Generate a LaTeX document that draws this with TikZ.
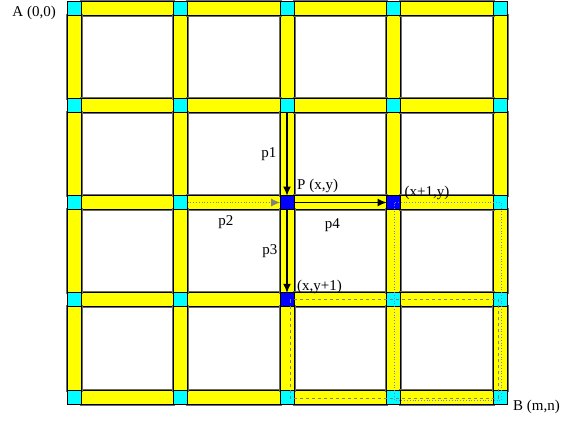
\documentclass[tikz,border=0pt]{standalone}
\usepackage{fontspec}
\setmainfont{Liberation Serif}
\usetikzlibrary{arrows.meta, positioning, backgrounds}
\definecolor{junction}{RGB}{0,255,255}
\definecolor{street}{RGB}{255,255,0}
\definecolor{visited}{RGB}{0,0,255}
\definecolor{pathblue}{RGB}{110,120,240}

\begin{document}
\begin{tikzpicture}[x=1pt, y=-1pt, >={Latex[length=9pt, width=8pt]},
    cell/.style={draw, line width=0.8pt, fill=junction, minimum size=14pt, inner sep=0pt, outer sep=0pt},
    hl22/.style={fill=visited}, hl32/.style={fill=visited}, hl23/.style={fill=visited},
    bar/.style={preaction={draw=gray!85!black, line width=3pt}, draw, line width=0.8pt, fill=street},
    lbl/.style={font=\fontsize{15}{17}\selectfont, inner sep=1pt},
    move/.style={->, line width=1.1pt}]
  \useasboundingbox (0,0) rectangle (561,421);

  % junctions of the grid
  \foreach \i in {0,...,4}
    \foreach \j in {0,...,4}
      \node[cell, hl\i\j/.try] (v\i\j) at ({74+106.5*\i}, {8+97.25*\j}) {};

  % streets between the junctions
  \begin{scope}[on background layer]
    \foreach \i [count=\k] in {0,...,3}
      \foreach \j in {0,...,4} {
        \draw[bar] (v\i\j.north east) rectangle (v\k\j.south west);
        \draw[bar] (v\j\i.south west) rectangle (v\j\k.north east);
      }
  \end{scope}

  % moves around P
  \draw[move] (v21) -- node[lbl, left=9pt] {p1} (v22);
  \draw[->, gray, dotted, line width=0.8pt] (v12) -- node[lbl, black, below=12pt, xshift=-8pt] {p2} (v22);
  \draw[move] (v22) -- node[lbl, left=8pt] {p3} (v23);
  \draw[move] (v22) -- node[lbl, below=15pt, xshift=-8pt] {p4} (v32);

  % paths on to B
  \draw[pathblue, dotted, line width=0.8pt] ([xshift=1pt]v32.center) rectangle ([shift={(1.5,3)}]v44.center);
  \draw[gray, dashed, line width=0.6pt] ([xshift=3pt]v23.center) rectangle ([shift={(-2,1)}]v44.center);

  % corner and point labels
  \node[lbl, anchor=east] (A) at ([xshift=-10pt, yshift=-5pt]v00.west) {A (0,0)};
  \node[lbl, anchor=west] (B) at ([xshift=5pt, yshift=-10pt]v44.east) {B (m,n)};
  \node[lbl, anchor=west] (P) at ([xshift=2pt, yshift=17pt]v22.east) {P (x,y)};
  \node[lbl, anchor=west] (R) at ([xshift=3pt, yshift=10pt]v32.east) {(x+1,y)};
  \node[lbl, anchor=west] (D) at ([xshift=2pt, yshift=13pt]v23.east) {(x,y+1)};
\end{tikzpicture}
\end{document}
